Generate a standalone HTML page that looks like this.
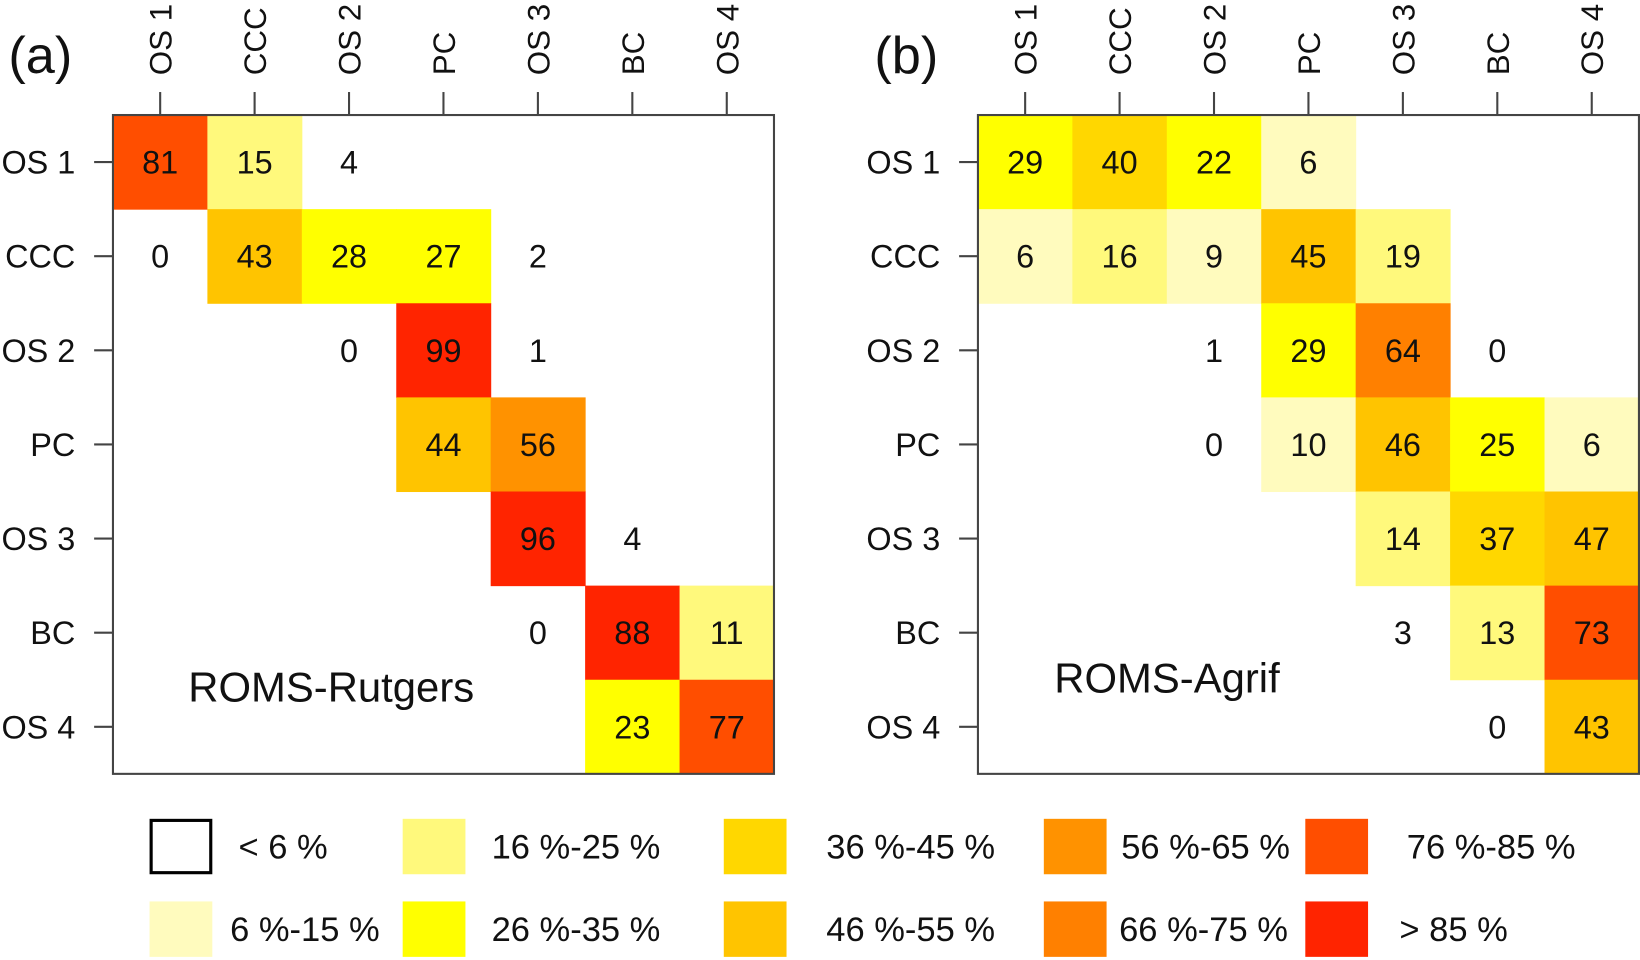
<!DOCTYPE html>
<html><head><meta charset="utf-8"><style>
html,body{margin:0;padding:0;background:#fff;}
svg{display:block;font-family:"Liberation Sans",sans-serif;}
</style></head><body>
<svg id="fig" width="1640" height="960" viewBox="0 0 1568 918" preserveAspectRatio="none"></svg>
<script>
const categories = ["OS 1","CCC","OS 2","PC","OS 3","BC","OS 4"];
// [row, col, value]
const rutgersCells = [[0,0,81],[0,1,15],[0,2,4],[1,0,0],[1,1,43],[1,2,28],[1,3,27],[1,4,2],[2,2,0],[2,3,99],[2,4,1],[3,3,44],[3,4,56],[4,4,96],[4,5,4],[5,4,0],[5,5,88],[5,6,11],[6,5,23],[6,6,77]];
const agrifCells = [[0,0,29],[0,1,40],[0,2,22],[0,3,6],[1,0,6],[1,1,16],[1,2,9],[1,3,45],[1,4,19],[2,2,1],[2,3,29],[2,4,64],[2,5,0],[3,2,0],[3,3,10],[3,4,46],[3,5,25],[3,6,6],[4,4,14],[4,5,37],[4,6,47],[5,4,3],[5,5,13],[5,6,73],[6,5,0],[6,6,43]];
const binLower = [0,6,11,21,36,43,56,64,73,86];
const binColors = ["#ffffff","#fffbbe","#fff97c","#ffff00","#ffd700","#ffc400","#ff9200","#ff8000","#ff4e00","#ff2400"];
const legendLabels = ["< 6 %","6 %-15 %","16 %-25 %","26 %-35 %","36 %-45 %","46 %-55 %","56 %-65 %","66 %-75 %","76 %-85 %","> 85 %"];
const legendColors = ["#ffffff","#fffbbe","#fff97c","#ffff00","#ffd700","#ffc400","#ff9200","#ff8000","#ff4e00","#ff2400"];

const NS="http://www.w3.org/2000/svg";
const svg=document.getElementById('fig');
function mk(tag,attrs,parent){const e=document.createElementNS(NS,tag);for(const k in attrs)e.setAttribute(k,attrs[k]);(parent||svg).appendChild(e);return e;}
function colorOf(v){let c=binColors[0];for(let i=0;i<binLower.length;i++){if(v>=binLower[i])c=binColors[i];}return c;}

function panel(x0,y0,w,h,cells,letter,letterX,title,titleX,titleY,name){
  const g=mk('g',{});
  
  
  const cw=w/categories.length, ch=h/categories.length;
  const xs=i=>x0+cw*i, ys=i=>y0+ch*i;
  cells.forEach(c=>{
    const col=colorOf(c[2]);
    if(col!=="#ffffff"){
      const r=mk('rect',{x:xs(c[1]),y:ys(c[0]),width:cw+0.5,height:ch+0.5,fill:col},g);
      
      
    }
    const t=mk('text',{x:xs(c[1])+cw/2,y:ys(c[0])+ch/2+11,'text-anchor':'middle','font-size':31,fill:'#111'},g);
    t.textContent=c[2];
    
    
  });
  const box=mk('rect',{x:x0,y:y0,width:w,height:h,fill:'none',stroke:'#444','stroke-width':2},g);
  
  
  categories.forEach((lab,i)=>{
    const cx=xs(i)+cw/2, cy=ys(i)+ch/2;
    mk('line',{x1:cx,y1:y0-22,x2:cx,y2:y0,stroke:'#444','stroke-width':2},g);
    mk('line',{x1:x0-18,y1:cy,x2:x0,y2:cy,stroke:'#444','stroke-width':2},g);
    const tx=mk('text',{x:0,y:0,transform:`translate(${cx+11},72) rotate(-90)`,'font-size':30,fill:'#111'},g);
    tx.textContent=lab;
    
    
    const ty=mk('text',{x:x0-36,y:cy+11,'text-anchor':'end','font-size':31,fill:'#111'},g);
    ty.textContent=lab;
    
    
  });
  const L=mk('text',{x:letterX,y:70,'font-size':50,fill:'#111'},g);
  L.textContent=letter;
  
  
  const T=mk('text',{x:titleX,y:titleY,'font-size':40,fill:'#111'},g);
  T.textContent=title;
  
  
}
panel(108,110,632,630,rutgersCells,'(a)',8,'ROMS-Rutgers',180,671,'panel-a');
panel(935,110,632,630,agrifCells,'(b)',836,'ROMS-Agrif',1008,662,'panel-b');

const legX=[143,385,692,998,1248], legTX=[228,470,790,1072,1345], legTX2=[220,470,790,1070,1338];
const lg=mk('g',{});


legendLabels.forEach((lab,i)=>{
  const col=Math.floor(i/2), row=i%2;
  const y=row===0?783:862;
  const r=mk('rect',{x:legX[col],y:y,width:60,height:53,fill:legendColors[i]},lg);
  if(i===0){r.setAttribute('stroke','#000');r.setAttribute('stroke-width',3);r.setAttribute('x',legX[col]+1.5);r.setAttribute('y',y+1.5);r.setAttribute('width',57);r.setAttribute('height',50);}
  
  
  const t=mk('text',{x:row===0?legTX[col]:legTX2[col],y:y+38,'font-size':33,fill:'#111'},lg);
  t.textContent=lab;
  
  
});
</script>
</body></html>
